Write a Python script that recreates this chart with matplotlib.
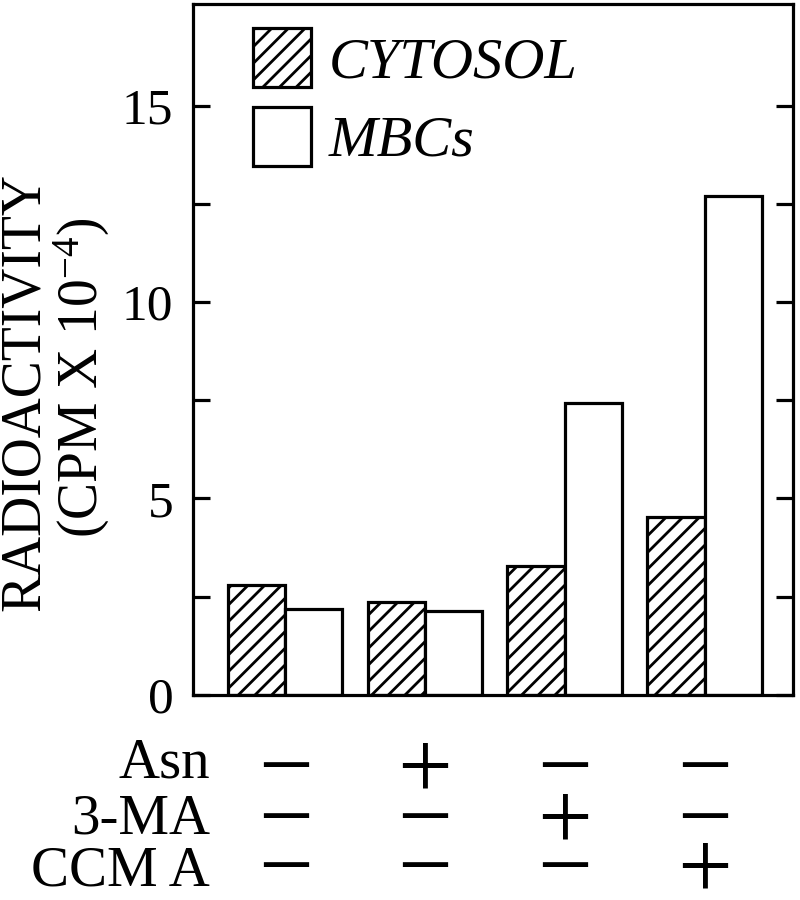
import numpy as np
import matplotlib
matplotlib.use('Agg')
from matplotlib import pyplot as plt
from matplotlib import transforms

plt.rcParams['font.family'] = ['Liberation Serif', 'DejaVu Serif']
plt.rcParams['mathtext.fontset'] = 'custom'
plt.rcParams['mathtext.rm'] = 'Liberation Serif'
plt.rcParams['mathtext.it'] = 'Liberation Serif:italic'
plt.rcParams['hatch.linewidth'] = 2.0

# data
groups = np.arange(4)
cytosol = [2.80, 2.36, 3.29, 4.53]
mbcs = [2.18, 2.13, 7.42, 12.70]

row_names = ['Asn', '3-MA', 'CCM A']
treatments = [
    ['\u2212', '+', '\u2212', '\u2212'],
    ['\u2212', '\u2212', '+', '\u2212'],
    ['\u2212', '\u2212', '\u2212', '+'],
]

fig = plt.figure(figsize=(8, 9), dpi=100)
ax = fig.add_axes([0.241, 0.228, 0.75, 0.7678])

w = 0.41
ax.bar(groups - w / 2, cytosol, w, facecolor='white', edgecolor='black',
       hatch='//', linewidth=2.3, label='CYTOSOL')
ax.bar(groups + w / 2, mbcs, w, facecolor='white', edgecolor='black',
       linewidth=2.3, label='MBCs')

ax.set_xlim(-0.66, 3.63)
ax.set_ylim(0, 17.6)

for s in ax.spines.values():
    s.set_linewidth(2.3)

ax.set_xticks([])
ax.set_yticks([0, 5, 10, 15])
ax.set_yticks([2.5, 7.5, 12.5], minor=True)
ax.tick_params(axis='y', which='both', direction='in', length=12, width=2.3,
               left=True, right=True, labelsize=37, pad=14)

leg = ax.legend(loc='upper left', bbox_to_anchor=(0.1, 0.965), frameon=False,
                prop={'style': 'italic', 'size': 42}, handlelength=1.0,
                handleheight=1.18, handletextpad=0.3, labelspacing=0.3,
                borderpad=0, borderaxespad=0)

fig.text(25 / 800, 1 - 392 / 900, 'RADIOACTIVITY', rotation=90,
         ha='center', va='center', fontsize=40)
fig.text(82 / 800, 1 - 378 / 900, '(CPM X 10$^{-4}$)', rotation=90,
         ha='center', va='center', fontsize=40)

# treatment table under the bars
trans = transforms.blended_transform_factory(ax.transData, fig.transFigure)
label_y = [1 - 778 / 900, 1 - 833 / 900, 1 - 886 / 900]
mark_y = [1 - 774 / 900, 1 - 825 / 900, 1 - 874 / 900]
for name, marks, yl, ym in zip(row_names, treatments, label_y, mark_y):
    fig.text(210 / 800, yl, name, ha='right', va='baseline', fontsize=41)
    for g, m in zip(groups, marks):
        ax.text(g, ym, m, transform=trans, ha='center', va='center',
                fontsize=70, clip_on=False)

fig.savefig('out.png', dpi=100)
